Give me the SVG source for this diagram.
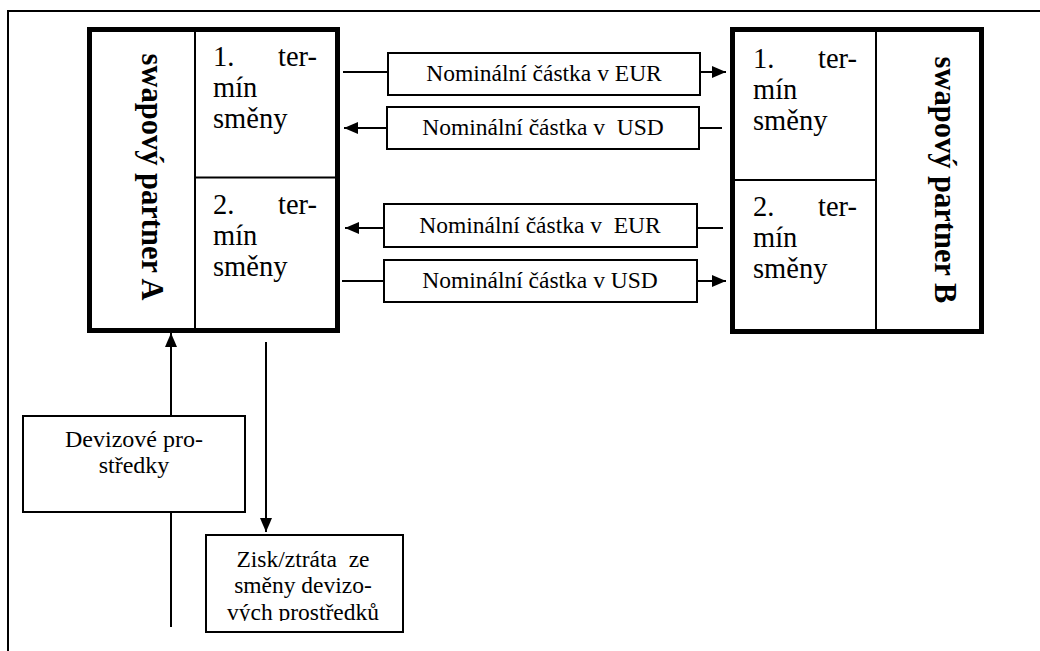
<svg xmlns="http://www.w3.org/2000/svg" width="1040" height="651" viewBox="0 0 1040 651">
<style>
text{font-family:'Liberation Serif','Times New Roman',Times,serif;fill:#000}
.term{font-size:28.5px}
.lbl{font-size:23.5px}
.lbl2{font-size:24px}
.title{font-size:30.5px;font-weight:bold}
.thick{fill:#fff;stroke:#000;stroke-width:5}
.thin{fill:none;stroke:#000;stroke-width:2}
.box{fill:#fff;stroke:#000;stroke-width:2}
.ln{fill:none;stroke:#000;stroke-width:2}
</style>
<defs>
<marker id="ah" viewBox="0 0 14 12" refX="14" refY="6" markerWidth="14" markerHeight="12" markerUnits="userSpaceOnUse" orient="auto">
<path d="M0,0 L14,6 L0,12 z" fill="#000"/>
</marker>
<clipPath id="clipZ"><rect x="206" y="535" width="197" height="86"/></clipPath>
</defs>
<rect width="1040" height="651" fill="#fff"/>
<g id="frame">
<path class="ln" d="M8,651 L8,11 L1040,11"/>
</g>
<g id="partnerA">
<rect class="thick" x="89.5" y="29.5" width="248" height="301"/>
<line class="thin" x1="195" y1="29.5" x2="195" y2="330.5"/>
<line class="thin" x1="195" y1="177.5" x2="337.5" y2="177.5"/>
<text class="title" transform="translate(142,177) rotate(90)" text-anchor="middle">swapový partner A</text>
<text class="term" x="213" y="66">1.</text>
<text class="term" x="317" y="66" text-anchor="end">ter-</text>
<text class="term" x="213" y="97">mín</text>
<text class="term" x="213" y="128">směny</text>
<text class="term" x="213" y="214">2.</text>
<text class="term" x="317" y="214" text-anchor="end">ter-</text>
<text class="term" x="213" y="245">mín</text>
<text class="term" x="213" y="276">směny</text>
</g>
<g id="partnerB">
<rect class="thick" x="732.5" y="29.5" width="249" height="302"/>
<line class="thin" x1="876" y1="29.5" x2="876" y2="331.5"/>
<line class="thin" x1="732.5" y1="180" x2="876" y2="180"/>
<text class="title" transform="translate(935,180) rotate(90)" text-anchor="middle">swapový partner B</text>
<text class="term" x="753" y="68">1.</text>
<text class="term" x="857" y="68" text-anchor="end">ter-</text>
<text class="term" x="753" y="99">mín</text>
<text class="term" x="753" y="130">směny</text>
<text class="term" x="753" y="216">2.</text>
<text class="term" x="857" y="216" text-anchor="end">ter-</text>
<text class="term" x="753" y="247">mín</text>
<text class="term" x="753" y="278">směny</text>
</g>
<g id="connectors">
<line class="ln" x1="343" y1="72" x2="388" y2="72"/>
<line class="ln" x1="700" y1="72" x2="726" y2="72" marker-end="url(#ah)"/>
<line class="ln" x1="387" y1="128" x2="344" y2="128" marker-end="url(#ah)"/>
<line class="ln" x1="699" y1="128" x2="722" y2="128"/>
<line class="ln" x1="384" y1="228" x2="345" y2="228" marker-end="url(#ah)"/>
<line class="ln" x1="697" y1="228" x2="723" y2="228"/>
<line class="ln" x1="342" y1="281" x2="384" y2="281"/>
<line class="ln" x1="697" y1="281" x2="726" y2="281" marker-end="url(#ah)"/>
<line class="ln" x1="171" y1="416" x2="171" y2="333" marker-end="url(#ah)"/>
<line class="ln" x1="171" y1="512" x2="171" y2="627"/>
<line class="ln" x1="266" y1="342" x2="266" y2="532" marker-end="url(#ah)"/>
</g>
<g id="eur1">
<rect class="box" x="388" y="53" width="312" height="42"/>
<text class="lbl" x="544" y="81" text-anchor="middle">Nominální částka v EUR</text>
</g>
<g id="usd1">
<rect class="box" x="387" y="107" width="312" height="42"/>
<text class="lbl" x="543" y="135" text-anchor="middle" xml:space="preserve">Nominální částka v  USD</text>
</g>
<g id="eur2">
<rect class="box" x="384" y="204" width="313" height="43"/>
<text class="lbl" x="540" y="233" text-anchor="middle" xml:space="preserve">Nominální částka v  EUR</text>
</g>
<g id="usd2">
<rect class="box" x="384" y="260" width="313" height="42"/>
<text class="lbl" x="540" y="288" text-anchor="middle">Nominální částka v USD</text>
</g>
<g id="devizove">
<rect class="box" x="23" y="416" width="222" height="96"/>
<text class="lbl2" x="134" y="447" text-anchor="middle">Devizové pro-</text>
<text class="lbl2" x="134" y="473" text-anchor="middle">středky</text>
</g>
<g id="zisk">
<rect class="box" x="206" y="535" width="197" height="97"/>
<g clip-path="url(#clipZ)">
<text class="lbl" x="303" y="567" text-anchor="middle" xml:space="preserve">Zisk/ztráta  ze</text>
<text class="lbl" x="303" y="593" text-anchor="middle">směny devizo-</text>
<text class="lbl" x="303" y="620" text-anchor="middle">vých prostředků</text>
</g>
</g>
</svg>
